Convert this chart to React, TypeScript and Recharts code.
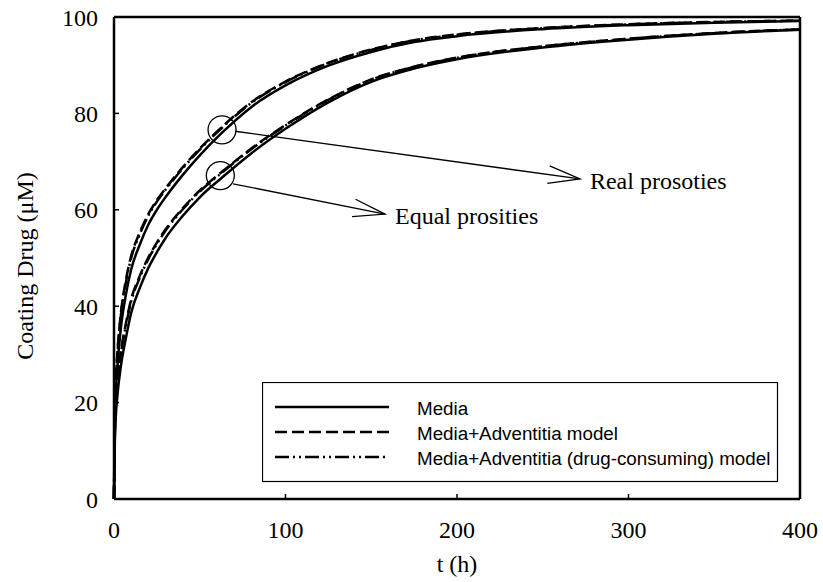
import React from 'react';
import { LineChart, Line, XAxis, YAxis, ReferenceLine, ReferenceDot, Legend } from 'recharts';

// Release time points (h)
const hours = [0, 0.5, 1, 2, 4, 7, 10, 15, 20, 25, 30, 40, 50, 63, 80, 100, 125, 150, 175, 200, 250, 300, 350, 400];

// Real porosities
const realMedia = [0, 17, 21.75, 27.5, 35.5, 42.5, 47.6, 52.75, 56.9, 60, 62.6, 67.2, 71.3, 76, 81.3, 85.8, 89.9, 92.75, 94.8, 96.03, 97.48, 98.3, 98.83, 99.15];
const realAdventitia = [0, 19, 24.25, 30.5, 38.5, 45.5, 50.4, 55.25, 59.1, 62, 64.4, 68.8, 72.7, 77.2, 82.3, 86.6, 90.5, 93.25, 95.2, 96.38, 97.73, 98.5, 98.98, 99.25];
const realConsuming = [0, 18.7, 23.9, 30.05, 38.05, 45.05, 49.98, 54.88, 58.77, 61.7, 64.13, 68.56, 72.49, 77.02, 82.15, 86.48, 90.41, 93.18, 95.14, 96.32, 97.69, 98.47, 98.95, 99.24];

// Equal porosities
const equalMedia = [0, 12, 16.75, 21.5, 27.5, 33.5, 38.6, 43.75, 47.9, 51.2, 54.1, 58.7, 62.6, 66.7, 71.7, 76.8, 82.3, 86.55, 89.3, 91.23, 93.68, 95.3, 96.53, 97.35];
const equalAdventitia = [0, 14, 19.25, 24.5, 30.5, 36.5, 41.4, 46.25, 50.1, 53.2, 55.9, 60.3, 64, 67.9, 72.7, 77.6, 82.9, 87.05, 89.7, 91.58, 93.93, 95.5, 96.68, 97.45];
const equalConsuming = [0, 13.7, 18.88, 24.05, 30.05, 36.05, 40.98, 45.88, 49.77, 52.9, 55.63, 60.06, 63.79, 67.72, 72.55, 77.48, 82.81, 86.98, 89.64, 91.52, 93.89, 95.47, 96.65, 97.44];

const xTicks = [0, 100, 200, 300, 400];
const yTicks = [0, 20, 40, 60, 80, 100];

const legendItems = [
  { label: 'Media', dash: undefined as string | undefined },
  { label: 'Media+Adventitia model', dash: '12 5' },
  { label: 'Media+Adventitia (drug-consuming) model', dash: '14 4 2 4 2 4' },
];

// Highlighted points and their callouts
const realMark = { t: 63, c: 76.6 };
const equalMark = { t: 62, c: 67.1 };
const realArrow = { from: { t: 70.6, c: 76.3 }, to: { t: 271.7, c: 66.4 }, text: 'Real prosoties' };
const equalArrow = { from: { t: 69.4, c: 65.4 }, to: { t: 158, c: 59.1 }, text: 'Equal prosities' };

const data = hours.map((t, i) => ({
  t,
  realMedia: realMedia[i],
  realAdventitia: realAdventitia[i],
  realConsuming: realConsuming[i],
  equalMedia: equalMedia[i],
  equalAdventitia: equalAdventitia[i],
  equalConsuming: equalConsuming[i],
}));

const SERIF = '"Liberation Serif", "Times New Roman", serif';
const SANS = '"Liberation Sans", Arial, sans-serif';

const XTick = (props: any) => {
  const { x, y, payload } = props;
  return (
    <g>
      <line x1={x} y1={y} x2={x} y2={y - 5} stroke="#000" strokeWidth={1.5} />
      <text x={x} y={y + 39} textAnchor="middle" fontFamily={SERIF} fontSize={24} fill="#000">
        {payload.value}
      </text>
    </g>
  );
};

const YTick = (props: any) => {
  const { x, y, payload } = props;
  return (
    <g>
      <line x1={x} y1={y} x2={x + 5} y2={y} stroke="#000" strokeWidth={1.5} />
      <text x={x - 16} y={y + 8.5} textAnchor="end" fontFamily={SERIF} fontSize={24} fill="#000">
        {payload.value}
      </text>
    </g>
  );
};

const arrowShape = (text: string) => (props: any) => {
  const { x1, y1, x2, y2 } = props;
  const ang = Math.atan2(y2 - y1, x2 - x1);
  const len = 33;
  const spread = 0.27;
  const ax = x2 - len * Math.cos(ang - spread);
  const ay = y2 - len * Math.sin(ang - spread);
  const bx = x2 - len * Math.cos(ang + spread);
  const by = y2 - len * Math.sin(ang + spread);
  return (
    <g>
      <line x1={x1} y1={y1} x2={x2} y2={y2} stroke="#000" strokeWidth={1.3} />
      <polyline points={`${ax},${ay} ${x2},${y2} ${bx},${by}`} fill="none" stroke="#000" strokeWidth={1.3} />
      <text x={x2 + 10} y={y2 + 10} fontFamily={SERIF} fontSize={24} fill="#000">
        {text}
      </text>
    </g>
  );
};

const LegendBox = () => (
  <svg width={517} height={101} style={{ display: 'block', overflow: 'hidden' }}>
    <rect x={0.5} y={0.5} width={515} height={99} fill="#fff" stroke="#000" strokeWidth={1.2} />
    {legendItems.map((item, i) => (
      <g key={item.label}>
        <line
          x1={13}
          x2={127}
          y1={25 + i * 25}
          y2={25 + i * 25}
          stroke="#000"
          strokeWidth={2.5}
          strokeDasharray={item.dash}
        />
        <text x={155} y={33 + i * 25} fontFamily={SANS} fontSize={18.8} fill="#000">
          {item.label}
        </text>
      </g>
    ))}
  </svg>
);

const curve = (key: string, dash?: string) => (
  <Line
    key={key}
    type="monotone"
    dataKey={key}
    stroke="#000"
    strokeWidth={2.5}
    strokeDasharray={dash}
    dot={false}
    activeDot={false}
    isAnimationActive={false}
    legendType="none"
  />
);

export default function App() {
  return (
    <div style={{ position: 'absolute', left: 0, top: 0, background: '#fff' }}>
      <LineChart width={823} height={582} data={data} margin={{ top: 17, right: 23, left: 0, bottom: 0 }}>
        <XAxis
          type="number"
          dataKey="t"
          domain={[0, 400]}
          ticks={xTicks}
          interval={0}
          height={83}
          tickSize={0}
          tickMargin={0}
          tickLine={false}
          tick={<XTick />}
          axisLine={{ stroke: '#000', strokeWidth: 2.5 }}
          label={{
            content: (p: any) => {
              const { x, y, width } = p.viewBox;
              return (
                <text x={x + width / 2} y={y + 73} textAnchor="middle" fontFamily={SERIF} fontSize={24} fill="#000">
                  t (h)
                </text>
              );
            },
          }}
        />
        <YAxis
          type="number"
          domain={[0, 100]}
          ticks={yTicks}
          interval={0}
          width={114}
          tickSize={0}
          tickMargin={0}
          tickLine={false}
          tick={<YTick />}
          axisLine={{ stroke: '#000', strokeWidth: 2.5 }}
          label={{
            content: (p: any) => {
              const { x, y, height } = p.viewBox;
              const cx = x + 25;
              const cy = y + height / 2 + 8;
              return (
                <text
                  x={cx}
                  y={cy}
                  transform={`rotate(-90 ${cx} ${cy})`}
                  textAnchor="middle"
                  dominantBaseline="central"
                  fontFamily={SERIF}
                  fontSize={24}
                  fill="#000"
                >
                  Coating Drug (μM)
                </text>
              );
            },
          }}
        />
        <ReferenceLine y={100} stroke="#000" strokeWidth={2.5} />
        <ReferenceLine x={400} stroke="#000" strokeWidth={2.5} />

        {curve('realMedia')}
        {curve('equalMedia')}
        {curve('realAdventitia', '12 5')}
        {curve('equalAdventitia', '12 5')}
        {curve('realConsuming', '14 4 2 4 2 4')}
        {curve('equalConsuming', '14 4 2 4 2 4')}

        <ReferenceDot x={realMark.t} y={realMark.c} r={14} fill="none" stroke="#000" strokeWidth={1.3} />
        <ReferenceDot x={equalMark.t} y={equalMark.c} r={14} fill="none" stroke="#000" strokeWidth={1.3} />
        <ReferenceLine
          segment={[
            { x: realArrow.from.t, y: realArrow.from.c },
            { x: realArrow.to.t, y: realArrow.to.c },
          ]}
          ifOverflow="visible"
          shape={arrowShape(realArrow.text)}
        />
        <ReferenceLine
          segment={[
            { x: equalArrow.from.t, y: equalArrow.from.c },
            { x: equalArrow.to.t, y: equalArrow.to.c },
          ]}
          ifOverflow="visible"
          shape={arrowShape(equalArrow.text)}
        />

        <Legend
          layout="vertical"
          align="center"
          verticalAlign="middle"
          wrapperStyle={{ left: 262, top: 382, width: 517, height: 101 }}
          content={() => <LegendBox />}
        />
      </LineChart>
    </div>
  );
}
